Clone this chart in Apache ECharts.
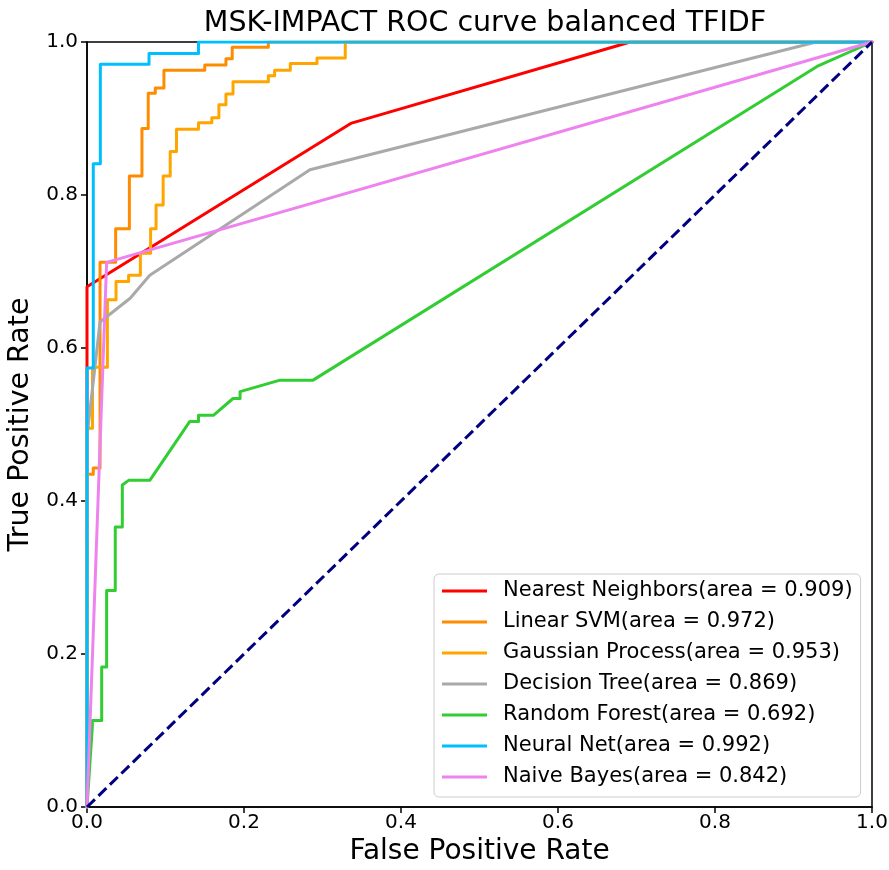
<!DOCTYPE html>
<html><head><meta charset="utf-8">
<script src="https://cdn.jsdelivr.net/npm/echarts@6/dist/echarts.min.js"></script>
<style>html,body{margin:0;padding:0;background:#fff}#c{width:889px;height:870px}</style>
</head><body><div id="c"></div>
<script>
// ---- data ----
const xTicks = [0, 0.2, 0.4, 0.6, 0.8, 1.0];
const yTicks = [0, 0.2, 0.4, 0.6, 0.8, 1.0];

const nnName = 'Nearest Neighbors(area = 0.909)';
const nnFpr = [0, 0, 0.337, 0.692, 1];
const nnTpr = [0, 0.680, 0.894, 1, 1];

const svmName = 'Linear SVM(area = 0.972)';
const svmFpr = [0, 0, 0.008, 0.008, 0.0166, 0.0166, 0.0365, 0.0365, 0.054, 0.054, 0.070, 0.070, 0.078, 0.078, 0.087, 0.087, 0.098, 0.098, 0.150, 0.150, 0.177, 0.177, 0.185, 0.185, 0.231, 0.231, 1];
const svmTpr = [0, 0.435, 0.435, 0.443, 0.443, 0.712, 0.712, 0.756, 0.756, 0.825, 0.825, 0.887, 0.887, 0.933, 0.933, 0.940, 0.940, 0.963, 0.963, 0.970, 0.970, 0.978, 0.978, 0.993, 0.993, 1, 1];

const gpName = 'Gaussian Process(area = 0.953)';
const gpFpr = [0, 0, 0.007, 0.007, 0.026, 0.026, 0.037, 0.037, 0.053, 0.053, 0.068, 0.068, 0.081, 0.081, 0.088, 0.088, 0.097, 0.097, 0.106, 0.106, 0.114, 0.114, 0.142, 0.142, 0.159, 0.159, 0.168, 0.168, 0.177, 0.177, 0.186, 0.186, 0.231, 0.231, 0.239, 0.239, 0.259, 0.259, 0.293, 0.293, 0.329, 0.329, 1];
const gpTpr = [0, 0.495, 0.495, 0.575, 0.575, 0.663, 0.663, 0.687, 0.687, 0.695, 0.695, 0.724, 0.724, 0.756, 0.756, 0.787, 0.787, 0.825, 0.825, 0.857, 0.857, 0.886, 0.886, 0.8945, 0.8945, 0.901, 0.901, 0.918, 0.918, 0.932, 0.932, 0.948, 0.948, 0.956, 0.956, 0.963, 0.963, 0.972, 0.972, 0.979, 0.979, 1, 1];

const dtName = 'Decision Tree(area = 0.869)';
const dtFpr = [0, 0, 0.0166, 0.055, 0.080, 0.284, 0.929, 1];
const dtTpr = [0, 0.484, 0.634, 0.665, 0.695, 0.833, 1, 1];

const rfName = 'Random Forest(area = 0.692)';
const rfFpr = [0, 0.0068, 0.0068, 0.0187, 0.0187, 0.025, 0.025, 0.036, 0.036, 0.045, 0.045, 0.053, 0.080, 0.131, 0.142, 0.142, 0.161, 0.186, 0.195, 0.195, 0.246, 0.288, 0.930, 1];
const rfTpr = [0, 0.105, 0.113, 0.113, 0.183, 0.183, 0.283, 0.283, 0.366, 0.366, 0.421, 0.427, 0.427, 0.504, 0.504, 0.512, 0.512, 0.534, 0.534, 0.543, 0.558, 0.558, 0.968, 1];

const mlpName = 'Neural Net(area = 0.992)';
const mlpFpr = [0, 0, 0.008, 0.008, 0.017, 0.017, 0.079, 0.079, 0.142, 0.142, 1];
const mlpTpr = [0, 0.574, 0.574, 0.841, 0.841, 0.971, 0.971, 0.985, 0.985, 1, 1];

const nbName = 'Naive Bayes(area = 0.842)';
const nbFpr = [0, 0.025, 1];
const nbTpr = [0, 0.712, 1];

const diagFpr = [0, 1];
const diagTpr = [0, 1];

// ---- build chart ----
const zip = (a, b) => a.map((v, i) => [v, b[i]]);
const FONT = 'DejaVu Sans';
const curves = [
  [nnName, nnFpr, nnTpr, '#ff0000'],
  [svmName, svmFpr, svmTpr, '#ff8c00'],
  [gpName, gpFpr, gpTpr, '#ffa500'],
  [dtName, dtFpr, dtTpr, '#a9a9a9'],
  [rfName, rfFpr, rfTpr, '#32cd32'],
  [mlpName, mlpFpr, mlpTpr, '#00bfff'],
  [nbName, nbFpr, nbTpr, '#ee82ee']
];
const series = curves.map(([name, f, t, color]) => ({
  name, type: 'line', data: zip(f, t), showSymbol: false, symbol: 'none',
  color, lineStyle: { color, width: 3, join: 'round', cap: 'round' },
  emphasis: { disabled: true }, animation: false
}));
series.push({
  name: 'diag', type: 'line', data: zip(diagFpr, diagTpr), showSymbol: false, symbol: 'none',
  lineStyle: { color: '#000080', width: 3, type: [11, 5] }, emphasis: { disabled: true }, animation: false
});

const chart = echarts.init(document.getElementById('c'), null, { renderer: 'canvas' });
chart.setOption({
  animation: false,
  backgroundColor: '#ffffff',
  title: {
    text: 'MSK-IMPACT ROC curve balanced TFIDF', left: 480, top: 4, textAlign: 'center',
    textStyle: { fontFamily: FONT, fontSize: 28.5, fontWeight: 'normal', color: '#000' }
  },
  grid: { left: 87, top: 42, width: 785, height: 765, show: true, borderColor: '#000', borderWidth: 1.5, containLabel: false, outerBoundsMode: 'none' },
  xAxis: {
    type: 'value', min: 0, max: 1, interval: 0.2,
    name: 'False Positive Rate', nameLocation: 'middle', nameGap: 15,
    nameTextStyle: { fontFamily: FONT, fontSize: 28, color: '#000', verticalAlign: 'top' },
    axisLine: { show: true, lineStyle: { color: '#000', width: 1.5 } },
    axisTick: { show: true, inside: false, length: 6, lineStyle: { color: '#000', width: 1.5 } },
    axisLabel: { fontFamily: FONT, fontSize: 20, color: '#000', margin: 6, formatter: v => xTicks.includes(+v.toFixed(1)) ? v.toFixed(1) : '' },
    splitLine: { show: false }
  },
  yAxis: {
    type: 'value', min: 0, max: 1, interval: 0.2,
    name: 'True Positive Rate', nameLocation: 'middle', nameGap: 43, nameRotate: 90,
    nameTextStyle: { fontFamily: FONT, fontSize: 28.5, color: '#000' },
    axisLine: { show: true, lineStyle: { color: '#000', width: 1.5 } },
    axisTick: { show: true, inside: false, length: 6, lineStyle: { color: '#000', width: 1.5 } },
    axisLabel: { fontFamily: FONT, fontSize: 20, color: '#000', margin: 9, formatter: v => yTicks.includes(+v.toFixed(1)) ? v.toFixed(1) : '' },
    splitLine: { show: false }
  },
  legend: {
    data: curves.map(c => c[0]),
    orient: 'vertical', left: 434, top: 574,
    padding: [6, 8, 9, 8],
    backgroundColor: 'rgba(255,255,255,0.85)', borderColor: '#cccccc', borderWidth: 1, borderRadius: 5,
    icon: 'rect', itemWidth: 45, itemHeight: 3, itemGap: 9,
    textStyle: { fontFamily: FONT, fontSize: 21, color: '#000', lineHeight: 22, padding: [0, 0, 0, 11] },
    selectedMode: false
  },
  series
});
</script></body></html>
